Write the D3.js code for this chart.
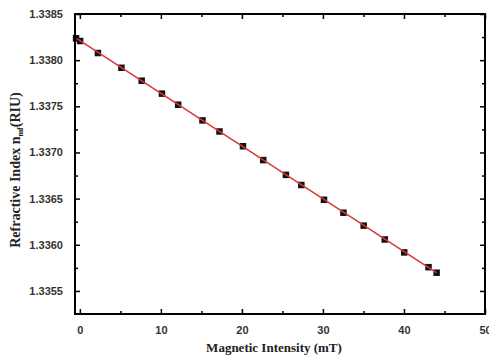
<!DOCTYPE html>
<html>
<head>
<meta charset="utf-8">
<script src="https://cdn.jsdelivr.net/npm/d3@7"></script>
<style>
body { margin: 0; background: #fff; overflow: hidden; }
</style>
</head>
<body>
<svg></svg>
<script>
var width = 489;
var height = 360;

// magnetic intensity (mT)
var field = [-0.5, 0, 2.2, 5.1, 7.6, 10.1, 12.1, 15.1, 17.2, 20.1, 22.6, 25.4, 27.3, 30.1, 32.5, 35.0, 37.6, 40.0, 43.0, 44.0];
// refractive index (RIU)
var riu = [1.33824, 1.33821, 1.33808, 1.33792, 1.33778, 1.33764, 1.33752, 1.33735, 1.33723, 1.33707,
           1.33692, 1.33676, 1.33665, 1.33649, 1.33635, 1.33621, 1.33606, 1.33592, 1.33576, 1.33570];

var xTicks = [0, 10, 20, 30, 40, 50];
var xMinor = [5, 15, 25, 35, 45];
var yTicks = [1.3355, 1.3360, 1.3365, 1.3370, 1.3375, 1.3380, 1.3385];
var yMinor = [1.33575, 1.33625, 1.33675, 1.33725, 1.33775, 1.33825];

var data = field.map((d, i) => ({x: d, y: riu[i]}));

var pLeft = 75, pRight = 485, pTop = 14, pBottom = 314;

var x = d3.scaleLinear().domain([-0.6, 50]).range([pLeft, pRight]);
var y = d3.scaleLinear().domain([1.33525, 1.3385]).range([pBottom, pTop]);

var svg = d3.select("svg")
    .attr("width", width)
    .attr("height", height);

svg.selectAll(".pt")
    .data(data)
    .enter()
    .append("rect")
        .classed("pt", true)
        .attr("x", d => x(d.x) - 3)
        .attr("y", d => y(d.y) - 3)
        .attr("width", 6.5)
        .attr("height", 6.5)
        .attr("fill", "#151010");

// linear fit, drawn over the squares
var mx = d3.mean(data, d => d.x), my = d3.mean(data, d => d.y);
var slope = d3.sum(data, d => (d.x - mx) * (d.y - my)) / d3.sum(data, d => (d.x - mx) * (d.x - mx));
var icpt = my - slope * mx;
var fit = [-0.6, 44].map(v => ({x: v, y: icpt + slope * v}));

svg.append("path")
    .datum(fit)
    .attr("fill", "none")
    .attr("stroke", "#d63838")
    .attr("stroke-width", 1.5)
    .attr("d", d3.line().x(d => x(d.x)).y(d => y(d.y)));

// axes, ticks inside
function axis(gen, tr, size) {
    return svg.append("g")
        .attr("transform", tr)
        .call(gen.tickSizeInner(size).tickSizeOuter(0));
}

axis(d3.axisBottom(x).tickValues(xTicks).tickPadding(12), `translate(0,${pBottom})`, -5);
axis(d3.axisBottom(x).tickValues(xMinor).tickFormat(""), `translate(0,${pBottom})`, -3);
axis(d3.axisTop(x).tickValues(xTicks).tickFormat(""), `translate(0,${pTop})`, -5);
axis(d3.axisTop(x).tickValues(xMinor).tickFormat(""), `translate(0,${pTop})`, -3);

axis(d3.axisLeft(y).tickValues(yTicks).tickFormat(d3.format(".4f")).tickPadding(12), `translate(${pLeft},0)`, -5);
axis(d3.axisLeft(y).tickValues(yMinor).tickFormat(""), `translate(${pLeft},0)`, -3);
axis(d3.axisRight(y).tickValues(yTicks).tickFormat(""), `translate(${pRight},0)`, -5);
axis(d3.axisRight(y).tickValues(yMinor).tickFormat(""), `translate(${pRight},0)`, -3);

svg.selectAll(".domain").remove();
svg.selectAll(".tick line").attr("stroke", "#000").attr("stroke-width", 1.5);
svg.selectAll(".tick text")
    .style("font-family", "Liberation Sans, Arial, sans-serif")
    .style("font-weight", "bold")
    .style("font-size", "11px")
    .attr("fill", "#333");

svg.append("rect")
    .attr("x", pLeft)
    .attr("y", pTop)
    .attr("width", pRight - pLeft)
    .attr("height", pBottom - pTop)
    .attr("fill", "none")
    .attr("stroke", "#000")
    .attr("stroke-width", 2);

svg.append("text")
    .attr("x", (pLeft + pRight) / 2 - 6)
    .attr("y", 352)
    .style("text-anchor", "middle")
    .style("font-family", "Liberation Serif, Times New Roman, serif")
    .style("font-weight", "bold")
    .style("font-size", "13px")
    .attr("fill", "#222")
    .text("Magnetic Intensity (mT)");

var ylab = svg.append("text")
    .attr("transform", `translate(20,170) rotate(-90)`)
    .style("text-anchor", "middle")
    .style("font-family", "Liberation Serif, Times New Roman, serif")
    .style("font-weight", "bold")
    .style("font-size", "14px")
    .attr("fill", "#222");
ylab.append("tspan").text("Refractive Index n");
ylab.append("tspan").attr("dy", 3).style("font-size", "8px").text("mf");
ylab.append("tspan").attr("dy", -3).text("(RIU)");
</script>
</body>
</html>
